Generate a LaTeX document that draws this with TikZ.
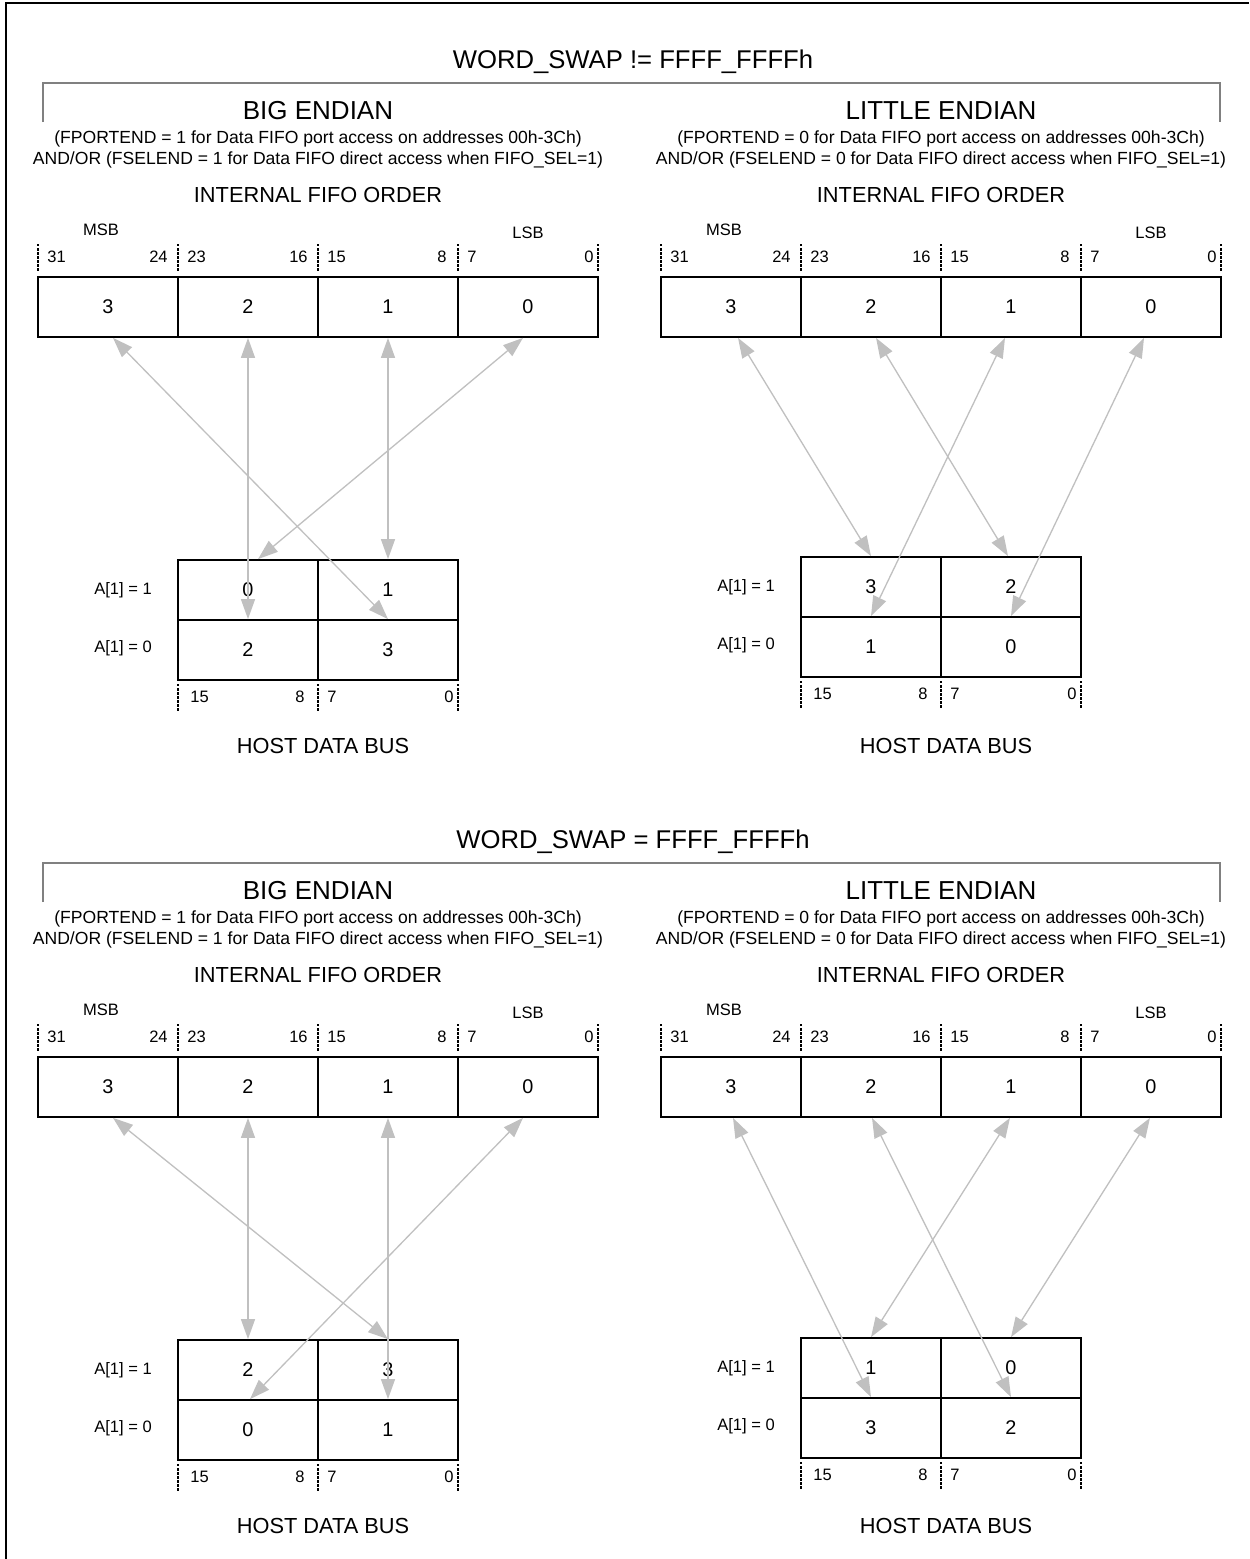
\documentclass[tikz,border=0pt]{standalone}
\usepackage{fontspec}
\setmainfont{Liberation Sans}
\usetikzlibrary{arrows.meta}
\definecolor{Link}{HTML}{C0C0C0}
\definecolor{Brace}{HTML}{808080}

\tikzset{
  swaptitle/.style={inner sep=0pt,font=\fontsize{14.6}{17}\selectfont},
  endhead/.style={inner sep=0pt,font=\fontsize{14.8}{17}\selectfont},
  subnote/.style={inner sep=0pt,font=\fontsize{10}{12}\selectfont},
  lanecap/.style={inner sep=0pt,font=\fontsize{12.4}{14}\selectfont},
  bitlbl/.style={inner sep=0pt,font=\fontsize{9.4}{11}\selectfont},
  cell/.style={draw,line width=1pt,minimum width=2.8cm,minimum height=1.2cm,inner sep=0pt,
    font=\fontsize{11.3}{13}\selectfont},
  tickline/.style={line width=1.5pt,dash pattern=on 1.4pt off 0.9pt},
  link/.style={draw=Link,line width=.75pt,<->},
  bracket/.style={draw=Brace,line width=.8pt},
  outline/.style={line width=1.5pt}
}

\begin{document}
\begin{tikzpicture}[x=0.02cm,y=-0.02cm,>={Triangle[length=4mm,width=2.8mm]}]
  \useasboundingbox (0,0) rectangle (1249,1559);
  \draw[outline] (6,1559) -- (6,3) -- (1249,3);
  % section titles and brackets
  \foreach \s/\py/\op in {top/0/!=,bot/780/=}{
    \node[swaptitle] (\s T) at (633,62+\py) {WORD\_SWAP \op{} FFFF\_FFFFh};
    \draw[bracket] (43,122+\py) -- (43,83+\py) -- (1220,83+\py) -- (1220,122+\py);
  }
  % one panel per endianness and section
  \foreach \p/\px/\py/\hy/\lbl/\bit/\hA/\hB/\hC/\hD in {%
      a/0/0/560/BIG ENDIAN/1/0/1/2/3,
      b/623/0/557/LITTLE ENDIAN/0/3/2/1/0,
      c/0/780/1340/BIG ENDIAN/1/2/3/0/1,
      d/623/780/1338/LITTLE ENDIAN/0/1/0/3/2}{
    \node[endhead] (\p E) at (318+\px,111+\py) {\lbl};
    \node[subnote] (\p S) at (318+\px,139+\py) {(FPORTEND = \bit{} for Data FIFO port access on addresses 00h-3Ch)};
    \node[subnote] (\p R) at (318+\px,160+\py) {AND/OR (FSELEND = \bit{} for Data FIFO direct access when FIFO\_SEL=1)};
    \node[lanecap] (\p O) at (318+\px,195+\py) {INTERNAL FIFO ORDER};
    \node[bitlbl] (\p M) at (101+\px,230+\py) {MSB};
    \node[bitlbl] (\p L) at (528+\px,233+\py) {LSB};
    % byte lanes of the FIFO word
    \foreach \i/\c/\hi/\lo/\r in {0/3/31/24/10,1/2/23/16/10,2/1/15/8/11,3/0/7/0/4}{
      \node[cell] (\p F\c) at (108+140*\i+\px,307+\py) {\c};
      \node[bitlbl,anchor=west] (\p hi\c) at (47+140*\i+\px,257+\py) {\hi};
      \node[bitlbl,anchor=east] (\p lo\c) at (178+140*\i-\r+\px,257+\py) {\lo};
    }
    \foreach \k in {0,...,4}
      \draw[tickline] (38+140*\k+\px,244+\py) -- (38+140*\k+\px,272+\py);
    % host data bus halves
    \node[cell] (\p H\hA) at (248+\px,\hy+30) {\hA};
    \node[cell] (\p H\hB) at (388+\px,\hy+30) {\hB};
    \node[cell] (\p H\hC) at (248+\px,\hy+90) {\hC};
    \node[cell] (\p H\hD) at (388+\px,\hy+90) {\hD};
    \node[bitlbl] (\p A) at (123+\px,\hy+30) {A[1] = 1};
    \node[bitlbl] (\p Z) at (123+\px,\hy+88) {A[1] = 0};
    \node[bitlbl,anchor=west] (\p hb) at (190+\px,\hy+137) {15};
    \node[bitlbl,anchor=east] (\p hc) at (305+\px,\hy+137) {8};
    \node[bitlbl,anchor=west] (\p hd) at (327+\px,\hy+137) {7};
    \node[bitlbl,anchor=east] (\p he) at (454+\px,\hy+137) {0};
    \foreach \k in {0,1,2}
      \draw[tickline] (178+140*\k+\px,\hy+124) -- (178+140*\k+\px,\hy+151);
    \node[lanecap] (\p D) at (323+\px,746+\py) {HOST DATA BUS};
  }
  % byte routes, WORD_SWAP != FFFF_FFFFh
  \draw[link] ([xshift=1mm]aF3.south) -- (aH3.north);
  \draw[link] (aF2.south) -- (aH2.north);
  \draw[link] (aF1.south) -- (aH1.north);
  \draw[link] ([xshift=-1mm]aF0.south) -- ([xshift=2mm]aH0.north);
  \draw[link] ([xshift=1.4mm]bF3.south) -- (bH3.north);
  \draw[link] ([xshift=1mm]bF2.south) -- ([xshift=-.6mm]bH2.north);
  \draw[link] ([xshift=-1.2mm]bF1.south) -- (bH1.north);
  \draw[link] ([xshift=-1.4mm]bF0.south) -- (bH0.north);
  % byte routes, WORD_SWAP = FFFF_FFFFh
  \draw[link] ([xshift=1mm]cF3.south) -- (cH3.north);
  \draw[link] (cF2.south) -- (cH2.north);
  \draw[link] (cF1.south) -- (cH1.north);
  \draw[link] ([xshift=-1mm]cF0.south) -- ([xshift=.4mm]cH0.north);
  \draw[link] ([xshift=.4mm]dF3.south) -- (dH3.north);
  \draw[link] ([xshift=.2mm]dF2.south) -- (dH2.north);
  \draw[link] ([xshift=-.2mm]dF1.south) -- (dH1.north);
  \draw[link] ([xshift=-.2mm]dF0.south) -- (dH0.north);
\end{tikzpicture}
\end{document}
